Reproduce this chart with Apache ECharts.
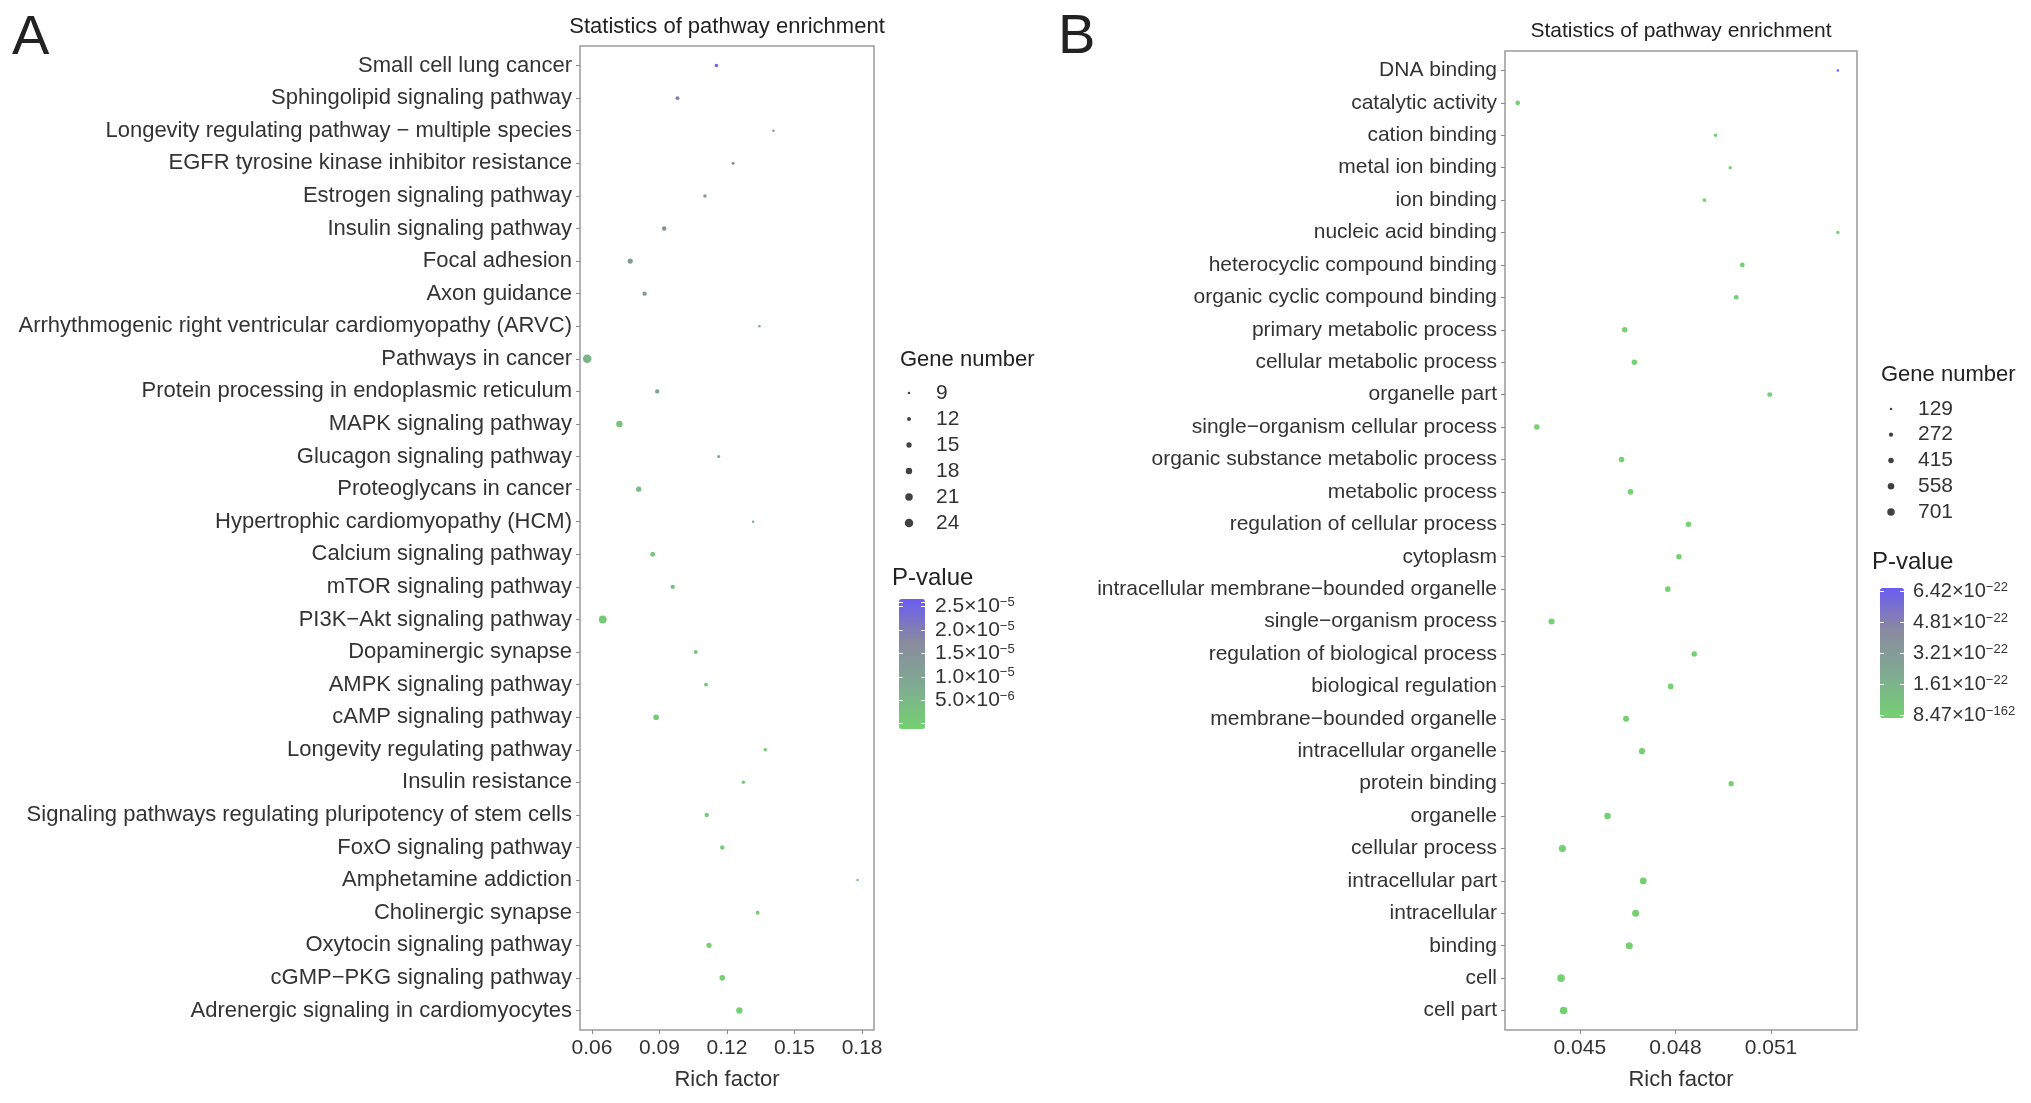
<!DOCTYPE html>
<html>
<head>
<meta charset="utf-8">
<script src="https://cdn.jsdelivr.net/npm/echarts@6/dist/echarts.min.js"></script>
<style>
html, body { margin: 0; padding: 0; background: #fff; }
#main { width: 2031px; height: 1103px; }
</style>
</head>
<body>
<div id="main"></div>
<script>
// ---- panel A : KEGG pathways (top to bottom) ----
var pathwaysA = [
    'Small cell lung cancer', 'Sphingolipid signaling pathway',
    'Longevity regulating pathway \u2212 multiple species', 'EGFR tyrosine kinase inhibitor resistance',
    'Estrogen signaling pathway', 'Insulin signaling pathway', 'Focal adhesion', 'Axon guidance',
    'Arrhythmogenic right ventricular cardiomyopathy (ARVC)', 'Pathways in cancer',
    'Protein processing in endoplasmic reticulum', 'MAPK signaling pathway', 'Glucagon signaling pathway',
    'Proteoglycans in cancer', 'Hypertrophic cardiomyopathy (HCM)', 'Calcium signaling pathway',
    'mTOR signaling pathway', 'PI3K\u2212Akt signaling pathway', 'Dopaminergic synapse',
    'AMPK signaling pathway', 'cAMP signaling pathway', 'Longevity regulating pathway',
    'Insulin resistance', 'Signaling pathways regulating pluripotency of stem cells',
    'FoxO signaling pathway', 'Amphetamine addiction', 'Cholinergic synapse',
    'Oxytocin signaling pathway', 'cGMP\u2212PKG signaling pathway', 'Adrenergic signaling in cardiomyocytes'
];
var richA = [0.1153, 0.098, 0.1406, 0.1227, 0.1102, 0.0921, 0.077, 0.0834, 0.1344, 0.0579,
             0.089, 0.0722, 0.1163, 0.0808, 0.1316, 0.087, 0.0959, 0.0648, 0.1061, 0.1107,
             0.0885, 0.137, 0.1273, 0.111, 0.1179, 0.178, 0.1336, 0.112, 0.1179, 0.1255];
var genesA = [11, 12, 9, 10, 11, 13, 15, 13, 9, 24, 13, 18, 10, 15, 9, 14, 13, 22, 12, 12,
              16, 11, 11, 13, 13, 9, 12, 15, 16, 18];
var pvalA = [2.55e-5, 1.9e-5, 1.5e-5, 1.45e-5, 1.35e-5, 1.6e-5, 1.3e-5, 1.15e-5, 1.15e-5, 6.5e-6,
             1.1e-5, 3.5e-6, 1.05e-5, 5e-6, 7e-6, 3e-6, 4e-6, 1.5e-6, 2.5e-6, 2e-6,
             1.2e-6, 1.5e-6, 1.2e-6, 8e-7, 7e-7, 1.5e-6, 6e-7, 4e-7, 2e-7, 5e-8];
var xTicksA = [0.06, 0.09, 0.12, 0.15, 0.18];
var sizeLegendA = [9, 12, 15, 18, 21, 24];
var colorTicksA = [5, 10, 15, 20, 25];          // units of 1e-6
var colorMantA = ['5.0', '1.0', '1.5', '2.0', '2.5'];
var colorExpA = ['\u22126', '\u22125', '\u22125', '\u22125', '\u22125'];

// ---- panel B : GO terms (top to bottom) ----
var termsB = [
    'DNA binding', 'catalytic activity', 'cation binding', 'metal ion binding', 'ion binding',
    'nucleic acid binding', 'heterocyclic compound binding', 'organic cyclic compound binding',
    'primary metabolic process', 'cellular metabolic process', 'organelle part',
    'single\u2212organism cellular process', 'organic substance metabolic process', 'metabolic process',
    'regulation of cellular process', 'cytoplasm', 'intracellular membrane\u2212bounded organelle',
    'single\u2212organism process', 'regulation of biological process', 'biological regulation',
    'membrane\u2212bounded organelle', 'intracellular organelle', 'protein binding', 'organelle',
    'cellular process', 'intracellular part', 'intracellular', 'binding', 'cell', 'cell part'
];
var richB = [0.0531, 0.04305, 0.04926, 0.04972, 0.04891, 0.0531, 0.0501, 0.04991, 0.04641, 0.04671,
             0.05096, 0.04365, 0.04631, 0.04659, 0.04841, 0.04811, 0.04776, 0.04411, 0.04859, 0.04785,
             0.04645, 0.04695, 0.04975, 0.04587, 0.04445, 0.04699, 0.04675, 0.04655, 0.04441, 0.04449];
var genesB = [129, 330, 200, 190, 230, 200, 330, 340, 400, 420, 350, 420, 430, 440, 400,
              410, 420, 500, 420, 440, 480, 510, 400, 550, 650, 600, 620, 640, 712, 708];
var pvalB = [6.42e-22, 3.1e-24, 5.5e-26, 1.1e-26, 4.0e-27, 8.2e-28, 2.1e-30, 6.5e-31, 1.3e-33, 2.6e-35,
             4.4e-36, 7.1e-38, 1.5e-39, 2.3e-42, 5.0e-45, 8.8e-48, 1.2e-50, 3.3e-55, 6.0e-58, 9.1e-62,
             1.4e-66, 2.7e-71, 5.5e-76, 8.0e-83, 1.9e-95, 3.6e-110, 7.2e-121, 4.9e-134, 2.2e-150, 8.47e-162];
var xTicksB = [0.045, 0.048, 0.051];
var sizeLegendB = [129, 272, 415, 558, 701];
var colorTicksB = [0, 1, 2, 3, 4];
var colorMantB = ['8.47', '1.61', '3.21', '4.81', '6.42'];
var colorExpB = ['\u2212162', '\u221222', '\u221222', '\u221222', '\u221222'];

var FONT = '"Liberation Sans", Arial, Helvetica, sans-serif';
var TXT = '#333';
var gradColors = ['#74d171', '#7fab92', '#8a8a9e', '#6b5cf2'];

function sizeScale(lo, hi, dmin, dmax) {
    return function (n) {
        var t = (Math.sqrt(n) - Math.sqrt(lo)) / (Math.sqrt(hi) - Math.sqrt(lo));
        return Math.max(1.5, dmin + t * (dmax - dmin));
    };
}
var sizeA = sizeScale(9, 24, 2.5, 8.5);
var sizeB = sizeScale(129, 701, 2.5, 7.5);

var idxA = pathwaysA.map(function (d, i) { return i; });
var idxB = termsB.map(function (d, i) { return i; });

var dataA = pathwaysA.map(function (name, i) { return [richA[i], i, genesA[i], pvalA[i]]; });
var dataB = termsB.map(function (name, i) { return [richB[i], i, genesB[i], pvalB[i]]; });

function catAxis(grid, names, idx, fs) {
    return {
        gridIndex: grid, type: 'value', min: -0.6, max: names.length - 0.4, inverse: true,
        splitLine: { show: false }, axisLine: { show: false, onZero: false },
        axisTick: { show: true, length: 4, lineStyle: { color: '#8a8a8a', width: 1 }, customValues: idx },
        axisLabel: {
            customValues: idx, margin: 8, fontSize: fs, color: TXT, fontFamily: FONT,
            formatter: function (v) { return names[Math.round(v)]; }
        }
    };
}
function valAxis(grid, min, max, ticks, digits) {
    return {
        gridIndex: grid, type: 'value', min: min, max: max,
        name: 'Rich factor', nameLocation: 'middle', nameGap: 39,
        nameTextStyle: { fontSize: 22, color: TXT, fontFamily: FONT },
        splitLine: { show: false }, axisLine: { show: false, onZero: false },
        axisTick: { show: true, length: 4, lineStyle: { color: '#8a8a8a', width: 1 }, customValues: ticks },
        axisLabel: {
            customValues: ticks, margin: 8, fontSize: 21, color: TXT, fontFamily: FONT,
            formatter: function (v) { return v.toFixed(digits); }
        }
    };
}
function supRich(size, supSize) {
    return {
        m: { fontSize: size, color: TXT, fontFamily: FONT },
        s: { fontSize: supSize, color: TXT, fontFamily: FONT, verticalAlign: 'top' }
    };
}
function barAxis(grid, max, interval, pos, ticks, mant, exps, margin, size) {
    return {
        gridIndex: grid, type: 'value', min: 0, max: max, interval: interval, position: pos, z: 10,
        splitLine: { show: false }, axisLine: { show: false, onZero: false },
        axisTick: { show: true, inside: true, length: 4, lineStyle: { color: '#fff', width: 1 } },
        axisLabel: {
            show: pos === 'right', margin: margin, rich: supRich(size, 13),
            formatter: function (v) {
                var k = ticks.indexOf(v);
                if (k < 0) return '';
                return '{m|' + mant[k] + '\u00d710}{s|' + exps[k] + '}';
            }
        }
    };
}
function legendAxis(grid, vals) {
    return {
        gridIndex: grid, type: 'category', data: vals.map(String), inverse: true, position: 'right',
        axisLine: { show: false }, axisTick: { show: false }, splitLine: { show: false },
        axisLabel: { interval: 0, margin: 17, fontSize: 21, color: TXT, fontFamily: FONT }
    };
}
function hiddenX(grid) {
    return { gridIndex: grid, type: 'value', min: -1, max: 1, show: false };
}
function label(x, y, text, size, align) {
    return {
        type: 'text', x: x, y: y, silent: true,
        style: {
            text: text, fill: '#222', font: size + 'px ' + FONT,
            textAlign: align, textVerticalAlign: 'middle', align: align, verticalAlign: 'middle'
        }
    };
}

var chart = echarts.init(document.getElementById('main'));
chart.setOption({
    animation: false,
    backgroundColor: '#fff',
    textStyle: { fontFamily: FONT },
    grid: [
        { left: 580, top: 46, width: 294, height: 984, show: true, borderColor: '#9a9a9a', borderWidth: 1.5 },
        { left: 1505, top: 51, width: 352, height: 979, show: true, borderColor: '#9a9a9a', borderWidth: 1.5 },
        { left: 899, top: 380, width: 20, height: 156 },
        { left: 1881, top: 396, width: 20, height: 129 },
        { left: 899, top: 602, width: 26, height: 121.5 },
        { left: 1880, top: 591, width: 24, height: 124 }
    ],
    xAxis: [
        valAxis(0, 0.0547, 0.1853, xTicksA, 2),
        valAxis(1, 0.04265, 0.0537, xTicksB, 3),
        hiddenX(2), hiddenX(3), hiddenX(4), hiddenX(5)
    ],
    yAxis: [
        catAxis(0, pathwaysA, idxA, 22),
        catAxis(1, termsB, idxB, 21),
        legendAxis(2, sizeLegendA),
        legendAxis(3, sizeLegendB),
        barAxis(4, 26, 5, 'right', colorTicksA, colorMantA, colorExpA, 10, 21),
        barAxis(5, 4, 1, 'right', colorTicksB, colorMantB, colorExpB, 9, 20),
        barAxis(4, 26, 5, 'left', colorTicksA, colorMantA, colorExpA, 10, 21),
        barAxis(5, 4, 1, 'left', colorTicksB, colorMantB, colorExpB, 9, 20)
    ],
    visualMap: [
        {
            type: 'continuous', seriesIndex: 0, dimension: 3, min: 0, max: 2.6e-5,
            left: 899, top: 599, itemWidth: 26, itemHeight: 130, padding: 0,
            calculable: false, hoverLink: false, inRange: { color: gradColors }
        },
        {
            type: 'continuous', seriesIndex: 1, dimension: 3, min: 0, max: 6.42e-22,
            left: 1880, top: 588, itemWidth: 24, itemHeight: 130, padding: 0,
            calculable: false, hoverLink: false, inRange: { color: gradColors }
        }
    ],
    series: [
        {
            type: 'scatter', xAxisIndex: 0, yAxisIndex: 0, data: dataA, symbol: 'circle',
            symbolSize: function (d) { return sizeA(d[2]); }, itemStyle: { opacity: 1 }
        },
        {
            type: 'scatter', xAxisIndex: 1, yAxisIndex: 1, data: dataB, symbol: 'circle',
            symbolSize: function (d) { return sizeB(d[2]); }, itemStyle: { opacity: 1 }
        },
        {
            type: 'scatter', xAxisIndex: 2, yAxisIndex: 2, symbol: 'circle',
            data: sizeLegendA.map(function (v) { return [0, String(v), v]; }),
            symbolSize: function (d) { return sizeA(d[2]); }, itemStyle: { color: '#111' }
        },
        {
            type: 'scatter', xAxisIndex: 3, yAxisIndex: 3, symbol: 'circle',
            data: sizeLegendB.map(function (v) { return [0, String(v), v]; }),
            symbolSize: function (d) { return sizeB(d[2]); }, itemStyle: { color: '#111' }
        },
        { type: 'scatter', xAxisIndex: 4, yAxisIndex: 4, data: [] },
        { type: 'scatter', xAxisIndex: 5, yAxisIndex: 5, data: [] }
    ],
    graphic: [
        label(12, 39, 'A', 56, 'left'),
        label(1058, 38, 'B', 56, 'left'),
        label(727, 27, 'Statistics of pathway enrichment', 22, 'center'),
        label(1681, 31, 'Statistics of pathway enrichment', 21, 'center'),
        label(900, 360, 'Gene number', 22, 'left'),
        label(1881, 375, 'Gene number', 22, 'left'),
        label(892, 578, 'P-value', 24, 'left'),
        label(1872, 562, 'P-value', 24, 'left')
    ]
});
</script>
</body>
</html>
